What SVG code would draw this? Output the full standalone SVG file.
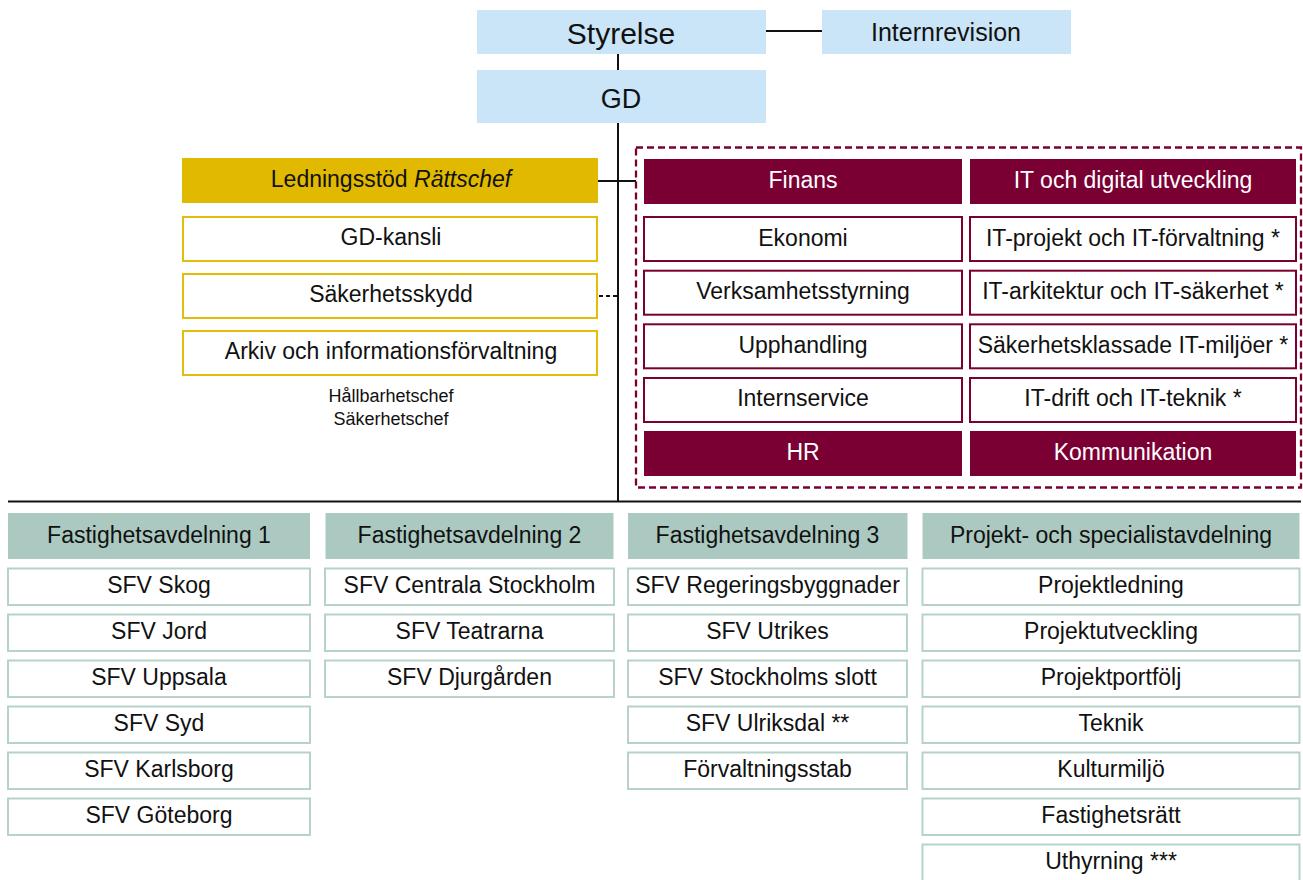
<svg xmlns="http://www.w3.org/2000/svg" width="1303" height="880" viewBox="0 0 1303 880">
<style>
text{font-family:"Liberation Sans",Arial,sans-serif;font-size:23px;fill:#111;text-anchor:middle}
.blue{fill:#c9e5f7}
.gold{fill:#e1b900}
.goldbox{fill:#fff;stroke:#e4bc0c;stroke-width:2}
.mh{fill:#7a0033}
.mbox{fill:#fff;stroke:#7a0033;stroke-width:2}
.th{fill:#abc9c0}
.tbox{fill:#fff;stroke:#b7d3c9;stroke-width:2}
.w{fill:#fff}
.ln{stroke:#111;stroke-width:2;fill:none}
.small{font-size:18px}
</style>
<rect width="1303" height="880" fill="#fff"/>
<g id="connectors">
<line class="ln" x1="765" y1="31" x2="822" y2="31"/>
<line class="ln" x1="618" y1="54" x2="618" y2="71"/>
<line class="ln" x1="618" y1="123" x2="618" y2="502"/>
<line class="ln" x1="598" y1="181" x2="636" y2="181"/>
<line class="ln" x1="599" y1="296" x2="618" y2="296" stroke-dasharray="4 3"/>
<line class="ln" x1="8" y1="501.5" x2="1301" y2="501.5" stroke-width="2.5"/>
</g>
<g id="styrelse"><rect class="blue" x="477" y="10" width="289" height="44"/><text x="621" y="44" style="font-size:30px">Styrelse</text></g>
<g id="internrevision"><rect class="blue" x="822" y="10" width="249" height="44"/><text x="946" y="41" style="font-size:25px">Internrevision</text></g>
<g id="gd"><rect class="blue" x="477" y="70" width="289" height="53"/><text x="621" y="108" style="font-size:27px">GD</text></g>
<g id="ledningsstod"><rect class="gold" x="182" y="158" width="416" height="45"/><text x="391" y="187">Ledningsstöd <tspan font-style="italic">Rättschef</tspan></text></g>
<g id="gd-kansli"><rect class="goldbox" x="183" y="217" width="414" height="44"/><text x="391" y="244.5">GD-kansli</text></g>
<g id="sakerhetsskydd"><rect class="goldbox" x="183" y="274" width="414" height="44"/><text x="391" y="302">Säkerhetsskydd</text></g>
<g id="arkiv"><rect class="goldbox" x="183" y="331" width="414" height="44"/><text x="391" y="359">Arkiv och informationsförvaltning</text></g>
<g id="chefer"><text class="small" x="391" y="402">Hållbarhetschef</text><text class="small" x="391" y="425">Säkerhetschef</text></g>
<g id="stab">
<rect x="636" y="147.5" width="665" height="340" fill="none" stroke="#7a0033" stroke-width="2.3" stroke-dasharray="7 4"/>
</g>
<g id="finans"><rect class="mh" x="644" y="159" width="318" height="45"/><text class="w" x="803" y="187.5">Finans</text></g>
<g id="it"><rect class="mh" x="970" y="159" width="326" height="45"/><text class="w" x="1133" y="187.5">IT och digital utveckling</text></g>
<g id="ekonomi"><rect class="mbox" x="644" y="217" width="318" height="44"/><text x="803" y="245.5">Ekonomi</text></g>
<g id="verksamhetsstyrning"><rect class="mbox" x="644" y="270.7" width="318" height="44"/><text x="803" y="299.2">Verksamhetsstyrning</text></g>
<g id="upphandling"><rect class="mbox" x="644" y="324.3" width="318" height="44"/><text x="803" y="352.8">Upphandling</text></g>
<g id="internservice"><rect class="mbox" x="644" y="378" width="318" height="44"/><text x="803" y="406">Internservice</text></g>
<g id="it-projekt"><rect class="mbox" x="970" y="217" width="326" height="44"/><text x="1133" y="245.5">IT-projekt och IT-förvaltning *</text></g>
<g id="it-arkitektur"><rect class="mbox" x="970" y="270.7" width="326" height="44"/><text x="1133" y="299.2">IT-arkitektur och IT-säkerhet *</text></g>
<g id="sakerhetsklassade"><rect class="mbox" x="970" y="324.3" width="326" height="44"/><text x="1133" y="352.8">Säkerhetsklassade IT-miljöer *</text></g>
<g id="it-drift"><rect class="mbox" x="970" y="378" width="326" height="44"/><text x="1133" y="406">IT-drift och IT-teknik *</text></g>
<g id="hr"><rect class="mh" x="644" y="431" width="318" height="45"/><text class="w" x="803" y="459.5">HR</text></g>
<g id="kommunikation"><rect class="mh" x="970" y="431" width="326" height="45"/><text class="w" x="1133" y="459.5">Kommunikation</text></g>

<g id="fa1">
<rect class="th" x="8" y="513" width="302" height="46"/><text x="159" y="543">Fastighetsavdelning 1</text>
<rect class="tbox" x="8" y="568.5" width="302" height="36.5"/><text x="159" y="592.5">SFV Skog</text>
<rect class="tbox" x="8" y="614.5" width="302" height="36.5"/><text x="159" y="638.5">SFV Jord</text>
<rect class="tbox" x="8" y="660.5" width="302" height="36.5"/><text x="159" y="684.5">SFV Uppsala</text>
<rect class="tbox" x="8" y="706.5" width="302" height="36.5"/><text x="159" y="730.5">SFV Syd</text>
<rect class="tbox" x="8" y="752.5" width="302" height="36.5"/><text x="159" y="776.5">SFV Karlsborg</text>
<rect class="tbox" x="8" y="798.5" width="302" height="36.5"/><text x="159" y="822.5">SFV Göteborg</text>
</g>
<g id="fa2">
<rect class="th" x="325.5" y="513" width="288" height="46"/><text x="469.5" y="543">Fastighetsavdelning 2</text>
<rect class="tbox" x="325" y="568.5" width="289" height="36.5"/><text x="469.5" y="592.5">SFV Centrala Stockholm</text>
<rect class="tbox" x="325" y="614.5" width="289" height="36.5"/><text x="469.5" y="638.5">SFV Teatrarna</text>
<rect class="tbox" x="325" y="660.5" width="289" height="36.5"/><text x="469.5" y="684.5">SFV Djurgården</text>
</g>
<g id="fa3">
<rect class="th" x="628" y="513" width="279.5" height="46"/><text x="767.5" y="543">Fastighetsavdelning 3</text>
<rect class="tbox" x="628" y="568.5" width="279" height="36.5"/><text x="767.5" y="592.5">SFV Regeringsbyggnader</text>
<rect class="tbox" x="628" y="614.5" width="279" height="36.5"/><text x="767.5" y="638.5">SFV Utrikes</text>
<rect class="tbox" x="628" y="660.5" width="279" height="36.5"/><text x="767.5" y="684.5">SFV Stockholms slott</text>
<rect class="tbox" x="628" y="706.5" width="279" height="36.5"/><text x="767.5" y="730.5">SFV Ulriksdal **</text>
<rect class="tbox" x="628" y="752.5" width="279" height="36.5"/><text x="767.5" y="776.5">Förvaltningsstab</text>
</g>
<g id="projekt">
<rect class="th" x="922.5" y="513" width="377" height="46"/><text x="1111" y="543">Projekt- och specialistavdelning</text>
<rect class="tbox" x="922.5" y="568.5" width="377" height="36.5"/><text x="1111" y="592.5">Projektledning</text>
<rect class="tbox" x="922.5" y="614.5" width="377" height="36.5"/><text x="1111" y="638.5">Projektutveckling</text>
<rect class="tbox" x="922.5" y="660.5" width="377" height="36.5"/><text x="1111" y="684.5">Projektportfölj</text>
<rect class="tbox" x="922.5" y="706.5" width="377" height="36.5"/><text x="1111" y="730.5">Teknik</text>
<rect class="tbox" x="922.5" y="752.5" width="377" height="36.5"/><text x="1111" y="776.5">Kulturmiljö</text>
<rect class="tbox" x="922.5" y="798.5" width="377" height="36.5"/><text x="1111" y="822.5">Fastighetsrätt</text>
<rect class="tbox" x="922.5" y="844.5" width="377" height="40"/><text x="1111" y="868.5">Uthyrning ***</text>
</g>
</svg>
